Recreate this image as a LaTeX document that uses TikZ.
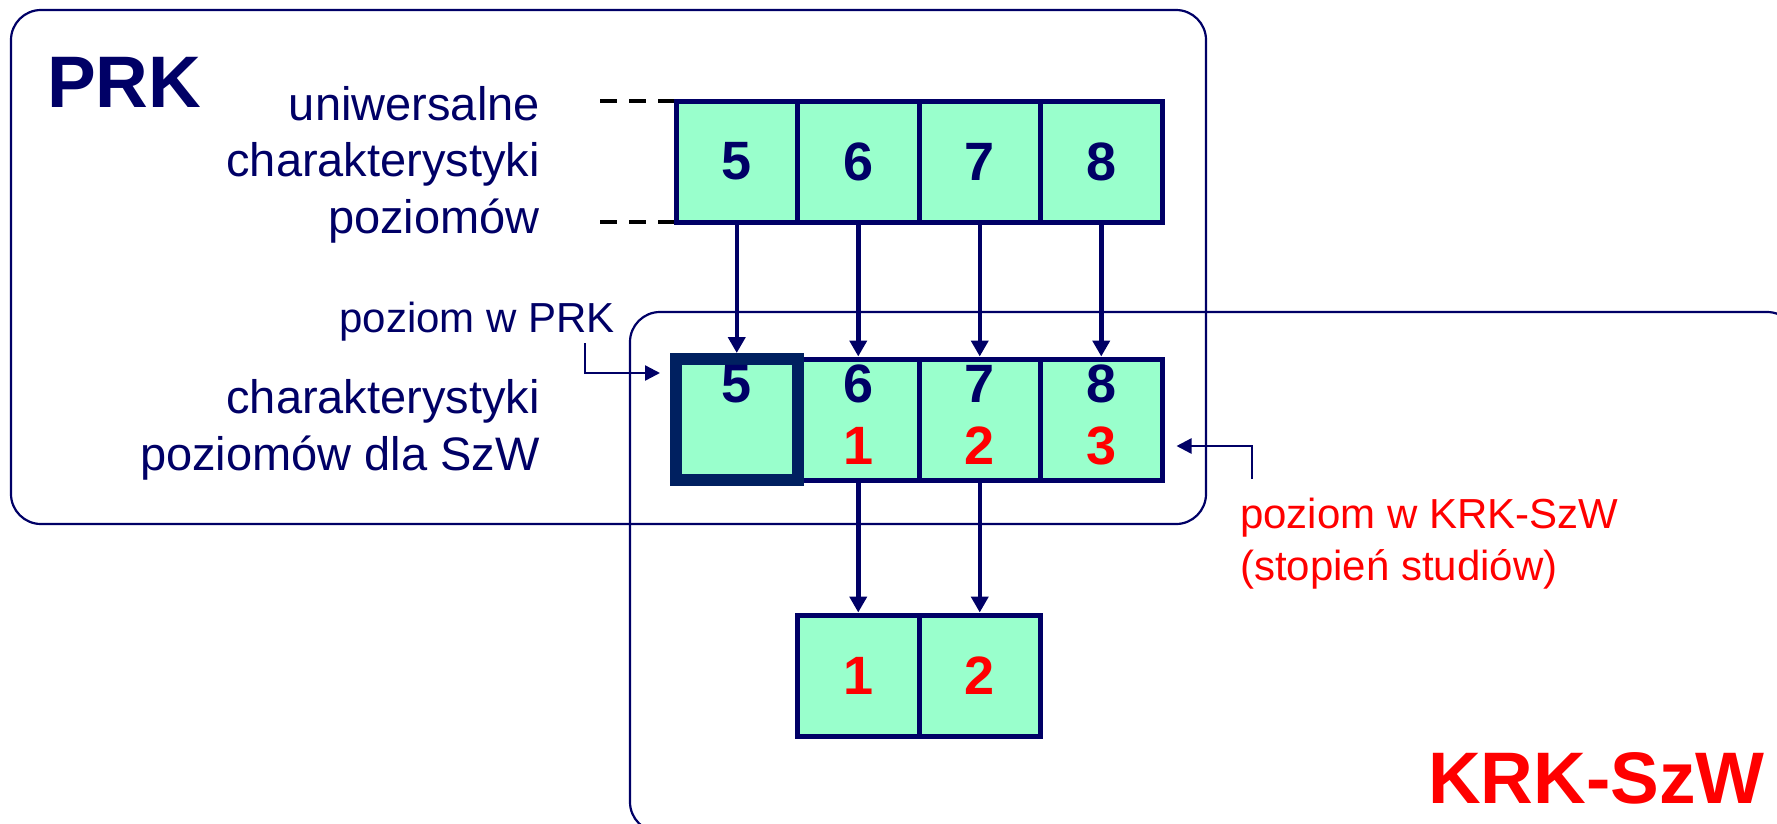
\documentclass[tikz,border=0pt]{standalone}
\usepackage{fontspec}
\setmainfont{Liberation Sans}
\usetikzlibrary{arrows.meta,calc}
\definecolor{granat}{HTML}{000066}
\definecolor{ciemny}{HTML}{002060}
\definecolor{mieta}{HTML}{99FFCC}
\definecolor{czerw}{HTML}{FF0000}
\begin{document}
\begin{tikzpicture}[x=1pt, y=-1pt, line join=miter, >={Triangle[length=16pt,width=17pt]},
	cell/.style={draw=granat, line width=5pt, fill=mieta, minimum width=121.5pt, minimum height=121pt, inner sep=0pt, font=\fontsize{54}{54}\selectfont\bfseries, text=granat},
	digit/.style={inner sep=0pt, font=\fontsize{54}{54}\selectfont\bfseries, text=granat},
	opis/.style={inner sep=0pt, font=\fontsize{47}{56.5}\selectfont, text=granat},
	etykieta/.style={inner sep=0pt, font=\fontsize{42}{52}\selectfont},
	tytul/.style={inner sep=0pt, font=\fontsize{73}{80}\selectfont\bfseries},
	ptr/.style={granat, line width=2.4pt, -{Triangle[length=15pt,width=15pt]}},
	strz/.style={granat, line width=4.5pt, ->}]
	\useasboundingbox (0,0) rectangle (1777,823);
	\clip (0,0) rectangle (1777,823);
	% ramki PRK i KRK-SzW
	\draw[granat, line width=2.2pt, rounded corners=30pt] (11,10) rectangle (1206,524);
	\draw[granat, line width=2.2pt, rounded corners=30pt] (630,312) rectangle (1797,832);
	\node[tytul, text=granat, anchor=base west] (prk) at (47,107) {PRK};
	\node[tytul, text=czerw, anchor=base east] (krk) at (1765,803) {KRK-SzW};
	% poziomy uniwersalne
	\foreach \n [count=\i from 0] in {5,6,7,8}
		\node[cell] (u\n) at (736.75+121.5*\i,161.5) {\n};
	\coordinate (d1) at (600,101);
	\coordinate (d2) at (600,222);
	\draw[black, line width=4.5pt, dash pattern=on 17pt off 12pt] (d1) -- (d1 -| u5.west);
	\draw[black, line width=4.5pt, dash pattern=on 17pt off 12pt] (d2) -- (d2 -| u5.west);
	\node[opis, align=right, anchor=base east] (uch) at (540,233) {uniwersalne\\charakterystyki\\poziomów};
	% poziomy dla SzW
	\foreach \n [count=\i from 1] in {6,7,8}
		\node[cell] (s\n) at (736.75+121.5*\i,419.5) {};
	\node[cell, draw=ciemny, line width=12pt] (s5) at (736.75,419.5) {};
	\foreach \n in {5,...,8}
		\node[digit] (n\n) at ($(s\n)+(0,-35.5)$) {\n};
	\foreach \n/\r in {6/1,7/2,8/3}
		\node[digit, text=czerw] (r\n) at ($(s\n)+(0,26.5)$) {\r};
	\node[opis, align=right, anchor=base east] (sch) at (540,470) {charakterystyki\\poziomów dla SzW};
	\foreach \n in {5,...,8}
		\draw[strz] (u\n) -- (s\n);
	% stopnie studiow
	\node[cell, text=czerw] (k1) at (858.25,675.5) {1};
	\node[cell, text=czerw] (k2) at (979.75,675.5) {2};
	\draw[strz] (s6) -- (k1);
	\draw[strz] (s7) -- (k2);
	% opisy ze strzalkami
	\node[etykieta, text=granat, anchor=base east] (lprk) at (615,332) {poziom w PRK};
	\node[etykieta, text=czerw, align=left, anchor=base west] (lkrk) at (1240,580) {poziom w KRK-SzW\\(stopień studiów)};
	\coordinate (pf) at (585,343);
	\coordinate (kf) at (1252,479);
	\draw[ptr] (pf) |- ($(s5.north west)+(-10,20)$);
	\draw[ptr] (kf) |- ($(s8.east |- r8)+(12,0)$);
\end{tikzpicture}
\end{document}
